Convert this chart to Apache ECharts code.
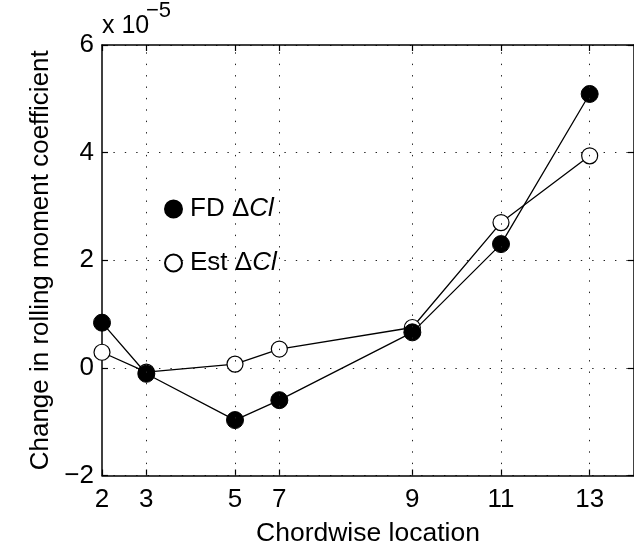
<!DOCTYPE html>
<html>
<head>
<meta charset="utf-8">
<script src="https://cdn.jsdelivr.net/npm/echarts@6/dist/echarts.min.js"></script>
<style>
  html, body { margin: 0; padding: 0; background: #fff; }
  #chart { width: 634px; height: 548px; }
</style>
</head>
<body>
<div id="chart"></div>
<script>
// Chordwise stations: plotted position on the chord axis and the location number printed at it
const xPositions = [2, 3, 5, 6, 9, 11, 13];
const locationLabels = ['2', '3', '5', '7', '9', '11', '13'];

// Change in rolling moment coefficient, in units of 1e-5
const fdDeltaCl = [0.84, -0.11, -0.97, -0.60, 0.66, 2.30, 5.09];
const estDeltaCl = [0.29, -0.08, 0.07, 0.35, 0.75, 2.70, 3.94];

const FONT = "'Liberation Sans', Arial, Helvetica, sans-serif";
const dotted = { color: '#222', width: 1, type: [1.4, 10] };

function pair(xs, ys) { return xs.map((x, i) => [x, ys[i]]); }
function labelFor(v) {
  const i = xPositions.indexOf(v);
  return i >= 0 ? locationLabels[i] : '';
}

const chart = echarts.init(document.getElementById('chart'), null, { renderer: 'canvas' });

const option = {
  animation: false,
  backgroundColor: '#fff',
  textStyle: { fontFamily: FONT },
  grid: { left: 102, top: 45, width: 532, height: 430.5, containLabel: false, outerBoundsMode: 'none' },
  graphic: [
    { type: 'text', left: 102, top: 14, style: { text: 'x 10', font: '25px ' + FONT, fill: '#000' } },
    { type: 'text', left: 146, top: 0, style: { text: '\u22125', font: '22px ' + FONT, fill: '#000' } }
  ],
  legend: {
    orient: 'vertical',
    left: 159, top: 191,
    itemWidth: 17, itemHeight: 17,
    itemGap: 28,
    data: [{ name: 'FD', icon: 'circle' }, { name: 'Est', icon: 'circle' }],
    formatter: n => '{t|' + n + ' \u0394}{i|Cl}',
    textStyle: {
      fontFamily: FONT, fontSize: 26, color: '#000', padding: [0, 0, 0, 3],
      rich: {
        t: { fontFamily: FONT, fontSize: 26, color: '#000' },
        i: { fontFamily: FONT, fontSize: 26, color: '#000', fontStyle: 'italic' }
      }
    }
  },
  xAxis: [
    {
      type: 'value', min: 2, max: 14, interval: 1,
      name: 'Chordwise location', nameLocation: 'middle', nameGap: 45,
      nameTextStyle: { fontFamily: FONT, fontSize: 26.5, color: '#000' },
      axisLine: { show: true, onZero: false, lineStyle: { color: '#000', width: 1.5 } },
      axisTick: { show: true, inside: true, length: 6, customValues: xPositions, lineStyle: { color: '#000', width: 1.2 } },
      axisLabel: { show: true, customValues: xPositions, formatter: labelFor, margin: 11,
                   fontFamily: FONT, fontSize: 26, color: '#000' },
      splitLine: { show: false }
    },
    {
      type: 'value', min: 2, max: 14, interval: 1, position: 'top',
      axisLine: { show: true, onZero: false, lineStyle: { color: '#000', width: 1.5 } },
      axisTick: { show: true, inside: true, length: 6, customValues: xPositions, lineStyle: { color: '#000', width: 1.2 } },
      axisLabel: { show: false },
      splitLine: { show: false }
    }
  ],
  yAxis: [
    {
      type: 'value', min: -2, max: 6, interval: 2,
      name: 'Change in rolling moment coefficient', nameLocation: 'middle', nameGap: 46, nameRotate: 90,
      nameTextStyle: { fontFamily: FONT, fontSize: 26, color: '#000' },
      axisLine: { show: true, onZero: false, lineStyle: { color: '#000', width: 1.5 } },
      axisTick: { show: true, inside: true, length: 6, lineStyle: { color: '#000', width: 1.2 } },
      axisLabel: { margin: 8, fontFamily: FONT, fontSize: 26, color: '#000',
                   formatter: v => (v < 0 ? '\u2212' + Math.abs(v) : String(v)) },
      splitLine: { show: true, lineStyle: dotted }
    },
    {
      type: 'value', min: -2, max: 6, interval: 2, position: 'right',
      axisLine: { show: true, onZero: false, lineStyle: { color: '#000', width: 1.5 } },
      axisTick: { show: true, inside: true, length: 6, lineStyle: { color: '#000', width: 1.2 } },
      axisLabel: { show: false },
      splitLine: { show: false }
    }
  ],
  series: [
    {
      name: 'FD', type: 'line', xAxisIndex: 0, yAxisIndex: 0,
      data: pair(xPositions, fdDeltaCl),
      symbol: 'circle', symbolSize: 17, showAllSymbol: true,
      lineStyle: { color: '#000', width: 1.3 },
      itemStyle: { color: '#000', borderColor: '#000', borderWidth: 1 },
      z: 3,
      markLine: {
        silent: true, symbol: 'none', label: { show: false },
        lineStyle: dotted,
        data: xPositions.filter(v => v > 2).map(v => ({ xAxis: v }))
      }
    },
    {
      name: 'Est', type: 'line', xAxisIndex: 0, yAxisIndex: 0,
      data: pair(xPositions, estDeltaCl),
      symbol: 'circle', symbolSize: 16, showAllSymbol: true,
      lineStyle: { color: '#000', width: 1.3 },
      itemStyle: { color: '#fff', borderColor: '#000', borderWidth: 1.2 },
      z: 2
    }
  ]
};

chart.setOption(option);
</script>
</body>
</html>
